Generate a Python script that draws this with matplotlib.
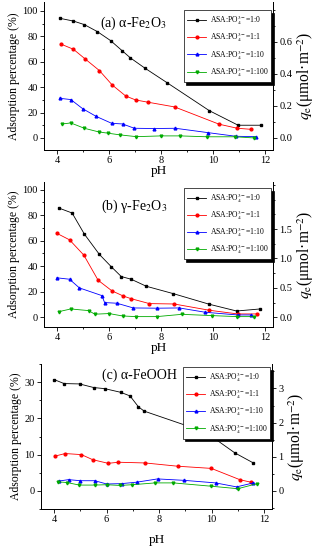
import numpy as np
import matplotlib
matplotlib.use('Agg')
from matplotlib import pyplot as plt
from matplotlib.ticker import MultipleLocator

plt.rcParams['font.family'] = ['Liberation Serif', 'DejaVu Serif']
plt.rcParams['mathtext.fontset'] = 'stix'

# (a) alpha-Fe2O3
a_ph_0 = [4.1, 4.63, 5.05, 5.55, 6.06, 6.5, 6.82, 7.38, 8.22, 9.85, 10.96, 11.85]
a_pct_0 = [94.2, 92.0, 89.2, 83.7, 76.6, 68.7, 63.0, 54.9, 43.6, 21.5, 10.0, 10.0]
a_ph_1 = [4.16, 4.63, 5.08, 5.63, 6.12, 6.64, 7.02, 7.5, 8.52, 10.23, 10.93, 11.44]
a_pct_1 = [73.8, 69.8, 62.2, 53.0, 41.7, 33.0, 29.9, 28.1, 24.4, 10.8, 7.6, 6.8]
a_ph_10 = [4.1, 4.53, 4.98, 5.5, 6.1, 6.52, 6.97, 7.73, 8.55, 9.79, 10.87, 11.63]
a_pct_10 = [31.2, 30.2, 23.1, 17.0, 11.5, 11.0, 7.6, 7.4, 7.6, 4.2, 1.3, 1.0]
a_ph_100 = [4.21, 4.53, 5.05, 5.61, 5.97, 6.42, 7.05, 8.0, 8.74, 9.76, 10.84, 11.57]
a_pct_100 = [11.0, 11.8, 7.6, 4.7, 3.7, 2.4, 1.0, 1.6, 1.6, 0.9, 0.9, 0.0]

# (b) gamma-Fe2O3
b_ph_0 = [4.07, 4.58, 5.05, 5.63, 6.09, 6.47, 6.85, 7.43, 8.47, 9.85, 10.9, 11.8]
b_pct_0 = [85.6, 81.7, 65.2, 49.2, 39.5, 31.9, 29.8, 24.3, 18.5, 10.2, 4.9, 6.5]
b_ph_1 = [4.0, 4.48, 5.03, 5.58, 6.11, 6.54, 6.84, 7.55, 8.5, 9.85, 10.94, 11.67]
b_pct_1 = [65.7, 60.7, 48.7, 29.0, 20.7, 16.7, 14.6, 10.7, 10.4, 5.5, 2.6, 2.6]
b_ph_10 = [4.0, 4.48, 4.86, 5.72, 5.83, 6.3, 6.93, 7.85, 8.7, 9.7, 10.94, 11.47]
b_pct_10 = [30.9, 29.8, 23.0, 17.0, 11.5, 11.0, 7.3, 7.1, 7.3, 3.9, 1.8, 1.8]
b_ph_100 = [4.07, 4.53, 5.22, 5.45, 6.0, 6.52, 7.03, 7.83, 8.8, 9.95, 10.93, 11.58]
b_pct_100 = [4.4, 6.5, 5.2, 2.4, 2.9, 1.0, 0.5, 0.5, 2.3, 1.3, 0.5, 0.5]

# (c) alpha-FeOOH
c_ph_0 = [4.0, 4.38, 4.97, 5.51, 5.93, 6.53, 6.89, 7.21, 7.43, 9.77, 10.88, 11.59]
c_pct_0 = [30.7, 29.6, 29.5, 28.5, 28.2, 27.2, 26.2, 23.2, 22.0, 16.2, 10.5, 7.7]
c_ph_1 = [4.04, 4.42, 5.04, 5.47, 6.06, 6.45, 7.47, 8.71, 9.99, 11.07, 11.49]
c_pct_1 = [9.6, 10.3, 10.0, 8.6, 7.6, 7.9, 7.7, 6.8, 6.2, 3.1, 2.4]
c_ph_10 = [4.17, 4.55, 5.0, 5.55, 6.0, 6.57, 7.15, 7.94, 8.96, 10.15, 10.95, 11.59]
c_pct_10 = [2.7, 3.1, 2.8, 2.8, 1.9, 2.0, 2.4, 3.3, 2.9, 2.2, 1.1, 2.2]
c_ph_100 = [4.13, 4.49, 4.96, 5.54, 6.0, 6.5, 6.98, 7.85, 8.54, 9.96, 11.0, 11.74]
c_pct_100 = [2.5, 2.3, 1.6, 1.6, 1.7, 1.5, 1.7, 2.2, 2.2, 1.3, 0.6, 2.0]

ratios = ['1:0', '1:1', '1:10', '1:100']
colors = ['black', '#ff0000', '#0000ff', '#00aa00']
markers = ['s', 'o', '^', 'v']

W, H = 320., 550.

def px_axes(fig, left, right, top, bottom):
	# axes placed by pixel edges measured on the reference
	return fig.add_axes([left/W, 1-bottom/H, (right-left)/W, (bottom-top)/H])

def style(ax):
	ax.tick_params(which='both', direction='out', labelsize=7.5, width=0.6, pad=1.5)
	ax.tick_params(which='major', length=3)
	ax.tick_params(which='minor', length=1.6)
	for s in ax.spines.values():
		s.set_linewidth(0.7)

def panel(ax, series, title, tpos, ylim, ymajor, k, rticks, rfmt, leg_anchor, xpad=0):
	for (ph, pct), lab, c, m in zip(series, ratios, colors, markers):
		ax.plot(ph, pct, color=c, marker=m, ms=2.0, lw=0.6,
				label=r'ASA:PO$_4^{3-}$=' + lab)
	ax.set_xlim(3.5, 12.3)
	ax.set_ylim(*ylim)
	ax.xaxis.set_major_locator(MultipleLocator(2))
	ax.xaxis.set_minor_locator(MultipleLocator(1))
	ax.yaxis.set_major_locator(MultipleLocator(ymajor))
	ax.yaxis.set_minor_locator(MultipleLocator(ymajor/2.))
	ax.spines['top'].set_visible(False)
	ax.set_xlabel('pH', fontsize=9.5, labelpad=xpad)
	ax.set_ylabel('Adsorption percentage (%)', fontsize=8.5, labelpad=2)
	style(ax)
	ax.text(tpos[0], tpos[1], title, transform=ax.transAxes, fontsize=10)

	# right axis: q_e, scaled with the left one
	ax2 = ax.twinx()
	ax2.set_ylim(ylim[0]*k, ylim[1]*k)
	ax2.set_yticks(rticks)
	ax2.set_yticklabels([rfmt % v for v in rticks])
	ax2.yaxis.set_minor_locator(MultipleLocator((rticks[1]-rticks[0])/2.))
	ax2.spines['top'].set_visible(False)
	ax2.set_ylabel(r'$q_{\rm e}$(μmol·m$^{-2}$)', fontsize=11.2, labelpad=2)
	style(ax2)

	leg = ax2.legend(*ax.get_legend_handles_labels(), loc='upper right',
					 bbox_to_anchor=leg_anchor, fontsize=5.5, frameon=True,
					 fancybox=False, edgecolor='black', handlelength=2.6,
					 handletextpad=0.4, borderpad=0.4, labelspacing=0.45,
					 borderaxespad=0.2,
					 shadow={'color': 'black', 'alpha': 1})
	leg.get_frame().set_linewidth(0.5)
	return ax2

fig = plt.figure(figsize=(3.2, 5.5), dpi=100)

ax = px_axes(fig, 44, 273, 2, 150)
panel(ax, [(a_ph_0, a_pct_0), (a_ph_1, a_pct_1), (a_ph_10, a_pct_10), (a_ph_100, a_pct_100)],
	  r'(a) α-Fe$_2$O$_3$', (0.245, 0.83), (-9.5, 107), 20, 0.00794,
	  [0.0, 0.2, 0.4, 0.6], '%.1f', (1.0, 0.955))

ax = px_axes(fig, 44, 273, 182, 326.7)
panel(ax, [(b_ph_0, b_pct_0), (b_ph_1, b_pct_1), (b_ph_10, b_pct_10), (b_ph_100, b_pct_100)],
	  r'(b) γ-Fe$_2$O$_3$', (0.25, 0.81), (-7.4, 106), 20, 0.0217,
	  [0.0, 0.5, 1.0, 1.5], '%.1f', (1.0, 0.97))

ax = px_axes(fig, 41, 272, 364, 509)
panel(ax, [(c_ph_0, c_pct_0), (c_ph_1, c_pct_1), (c_ph_10, c_pct_10), (c_ph_100, c_pct_100)],
	  r'(c) α-FeOOH', (0.265, 0.9), (-5, 35), 10, 0.1062,
	  [0, 1, 2, 3], '%d', (1.0, 0.99), xpad=7)

fig.savefig('out.png', dpi=100)
